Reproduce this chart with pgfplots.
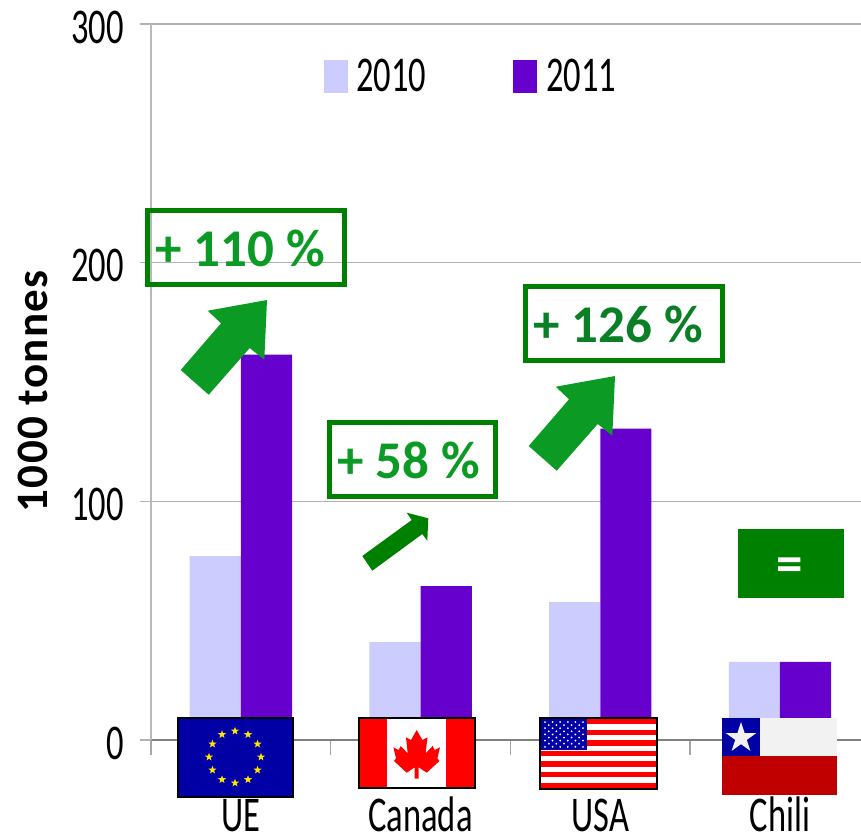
\documentclass[border=0pt]{standalone}
\usepackage{graphicx}
\usepackage{fontspec}
\setmainfont{Carlito}
\usepackage{pgfplots}
\pgfplotsset{compat=1.18}
\usetikzlibrary{shapes.geometric}

\definecolor{light}{HTML}{CCCCFF}
\definecolor{violet}{HTML}{6600CC}
\definecolor{boxgreen}{HTML}{008000}
\definecolor{txtgreen}{HTML}{0B9A23}
\definecolor{txtdark}{HTML}{0A7F25}
\definecolor{flagblue}{HTML}{0000A5}
\definecolor{flagred}{HTML}{FF0000}
\definecolor{chilired}{HTML}{C00000}
\definecolor{starY}{HTML}{FFE600}

\newcommand{\lab}[1]{\fontsize{25}{25}\selectfont\scalebox{0.69}[1]{#1}}
\newcommand{\bigtxt}[1]{\fontsize{26.5}{27}\selectfont\bfseries #1}

\begin{document}
\begin{tikzpicture}
\useasboundingbox (0,0) rectangle (430.5pt,-418pt);
\begin{axis}[
    at={(75.5pt,-370pt)}, anchor=south west,
    scale only axis, width=355pt, height=358pt,
    xmin=-0.5, xmax=3.451, ymin=0, ymax=300,
    axis x line*=bottom, axis y line*=left,
    axis line style={-, line width=0.7pt},
    x axis line style={color=gray},
    y axis line style={color=black!28},
    ybar=0pt, bar width=25.6pt,
    tick align=outside,
    major tick length=5.5pt, minor tick length=7.5pt,
    xtick={0,1,2,3}, xticklabels={UE,Canada,USA,Chili},
    minor xtick={-0.5,0.5,1.5,2.5},
    major x tick style={draw=none},
    minor x tick style={color=black!35, line width=0.7pt},
    ytick={0,100,200,300},
    y tick style={color=black!30, line width=0.7pt},
    ymajorgrids, grid style={color=black!30, line width=0.6pt},
    /pgf/number format/assume math mode=true,
    yticklabel={\lab{\pgfmathprintnumber{\tick}}},
    yticklabel style={inner sep=0pt, xshift=-8pt, yshift=-1.5pt},
    xticklabel={\lab{\pgfmathparse{int(\tick)}\ifcase\pgfmathresult UE\or Canada\or USA\or Chili\fi}},
    xticklabel style={anchor=base, inner sep=0pt, yshift=-40pt},
    ylabel={\fontsize{22.5}{23}\selectfont\bfseries\addfontfeatures{LetterSpace=3}1000 tonnes},
    ylabel style={at={(axis description cs:-0.166,0.487)}, anchor=center},
    legend image code/.code={\fill[#1] (0pt,-8.25pt) rectangle (12pt,8.25pt);},
    legend columns=2,
    legend style={at={(0.2437,0.9272)}, anchor=west, draw=none, fill=none,
        inner sep=0pt, /tikz/every even column/.append style={column sep=41.5pt}},
]
\addplot[fill=light, draw=none] coordinates {(0,77) (1,41) (2,57.8) (3,32.7)};
\addplot[fill=violet, draw=none] coordinates {(0,161.5) (1,64.5) (2,130.5) (3,32.7)};
\addlegendentry{\hspace{2pt}\raisebox{-1pt}{\lab{2010}}}
\addlegendentry{\hspace{2.5pt}\raisebox{-1pt}{\lab{2011}}}
\end{axis}

\begin{scope}[x=0.5pt, y=-0.5pt]
% annotation boxes
\draw[boxgreen, line width=2.5pt] (147.5,210.5) rectangle (344.5,284.5);
\draw[boxgreen, line width=2.5pt] (329.5,422.5) rectangle (495.5,496.5);
\draw[boxgreen, line width=2.5pt] (525.5,286.5) rectangle (722.5,360.5);
\node[anchor=base west, inner sep=0pt, text=txtgreen] at (155,266) {\bigtxt{+ 110 \%}};
\node[anchor=base west, inner sep=0pt, text=txtgreen] at (337,478) {\bigtxt{+ 58 \%}};
\node[anchor=base west, inner sep=0pt, text=txtdark] at (533,342) {\bigtxt{+ 126 \%}};

% arrows
\fill[txtgreen] (267,300) -- (264.3,359.7) -- (249.7,348) -- (208.7,394.7) -- (180.7,370) -- (221,323.3) -- (207.7,310.7) -- cycle;
\fill[txtgreen] (615,376) -- (612.3,435.7) -- (597.7,424) -- (556.7,470.7) -- (528.7,446) -- (569,399.3) -- (555.7,386.7) -- cycle;
\fill[boxgreen] (428.3,518.3) -- (427.3,540.7) -- (422.3,534) -- (372.3,570.7) -- (362.3,556) -- (411.7,520) -- (406.7,512.7) -- cycle;

% Chili "=" box
\fill[boxgreen] (738,529) rectangle (844,598);
\node[text=white, inner sep=0pt] at (790,570) {\bigtxt{=}};

% EU flag
\fill[flagblue] (177,717) rectangle (293,797);
\draw[black, line width=1pt] (177.5,717.5) rectangle (292.5,796.5);
\foreach \a in {0,30,...,330}
  \node[star, star points=5, star point ratio=2.4, fill=starY, inner sep=0pt, minimum size=4.2pt] at ({235+26*cos(\a)},{757+26*sin(\a)}) {};

% Canada flag
\fill[white] (358,717) rectangle (475,788);
\fill[flagred] (358,717) rectangle (387,788);
\fill[flagred] (446,717) rectangle (475,788);
\fill[flagred] (416.7,730) -- (422.4,740) -- (427.4,737.3) -- (425.7,753.3) -- (432.7,746) -- (434.7,750) -- (440,747.3) -- (437.4,758.3) -- (439.4,761) -- (426.7,772.7) -- (418.7,767.3)
  -- (418.7,778.7) -- (414.7,778.7) -- (414.7,767.3) -- (406.7,772.7) -- (394,761) -- (396,758.3) -- (393.4,747.3) -- (398.7,750) -- (400.7,746) -- (407.7,753.3) -- (406,737.3) -- (411,740) -- cycle;
\draw[black, line width=1pt] (358.5,717.5) rectangle (474.5,787.5);

% USA flag
\fill[white] (539,717) rectangle (657,789);
\foreach \i in {0,2,...,12}
  \fill[flagred] (540,{719+\i*5.3}) rectangle (656,{719+(\i+1)*5.3});
\fill[flagblue] (540,718) rectangle (587,750);
\foreach \r in {0,...,4} \foreach \c in {0,...,5}
  \fill[white] ({545+\c*7.6},{722+\r*6.2}) circle (1);
\foreach \r in {0,...,3} \foreach \c in {0,...,4}
  \fill[white] ({548.8+\c*7.6},{725.1+\r*6.2}) circle (1);
\draw[black, line width=1pt] (539.5,717.5) rectangle (656.5,788.5);

% Chile flag
\fill[black!5] (722,718) rectangle (837,756);
\fill[chilired] (722,756) rectangle (837,795);
\fill[flagblue] (722,718) rectangle (760,756);
\node[star, star points=5, star point ratio=2.618, fill=black!5, inner sep=0pt, minimum size=16pt] at (741,738) {};
\end{scope}
\end{tikzpicture}
\end{document}
